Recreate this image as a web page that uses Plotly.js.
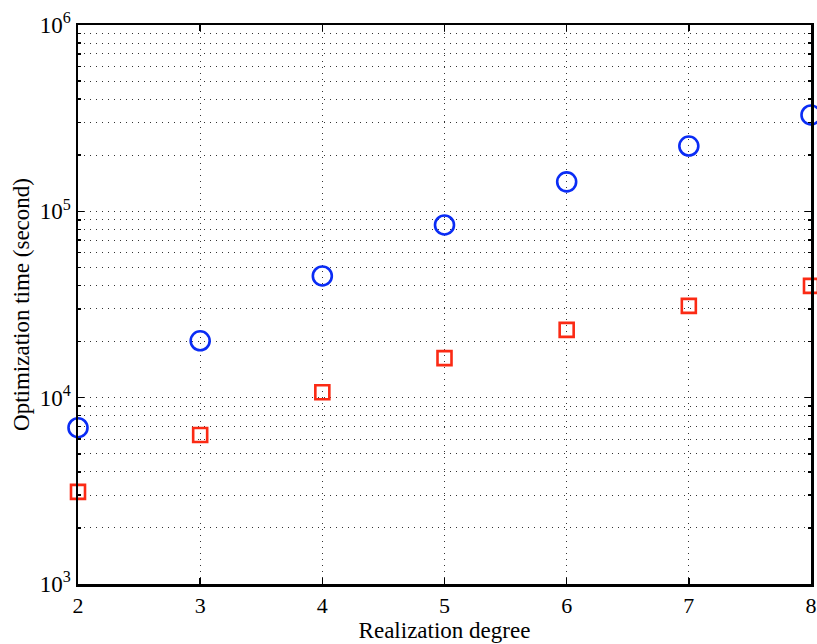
<!DOCTYPE html>
<html><head><meta charset="utf-8">
<script src="https://cdn.plot.ly/plotly-3.0.1.min.js"></script>
<style>
html,body{margin:0;padding:0;background:#fff}
#chart .xtick text{font-size:22px !important;}
#chart .ytick text{font-size:23px !important;}
</style>
</head><body>
<div id="chart" style="width:817px;height:644px"></div>
<script>
var degrees = [2, 3, 4, 5, 6, 7, 8];
var timeCircles = [6900, 20200, 45000, 84500, 144000, 224000, 329000];
var timeSquares = [3120, 6300, 10700, 16300, 23100, 31100, 39800];
var xTickVals = [2, 3, 4, 5, 6, 7, 8];
var yTickVals = [1000, 10000, 100000, 1000000];
var yTickText = ['10<sup>3</sup>', '10<sup>4</sup>', '10<sup>5</sup>', '10<sup>6</sup>'];

var fam = '"Liberation Serif", "Times New Roman", serif';
var traces = [
  {x: degrees, y: timeCircles, mode: 'markers', type: 'scatter', cliponaxis: false,
   marker: {symbol: 'circle-open', size: 19, color: '#0a2cf5', line: {width: 2.6, color: '#0a2cf5'}}},
  {x: degrees, y: timeSquares, mode: 'markers', type: 'scatter', cliponaxis: false,
   marker: {symbol: 'square-open', size: 14, color: '#fb2a14', line: {width: 2.6, color: '#fb2a14'}}}
];
var layout = {
  width: 817, height: 644,
  margin: {l: 78, r: 6, t: 25, b: 60},
  paper_bgcolor: '#fff', plot_bgcolor: '#fff',
  showlegend: false,
  font: {family: fam, color: '#000', size: 22},
  xaxis: {
    range: [2, 8], tickmode: 'array', tickvals: xTickVals, ticktext: xTickVals.map(String),
    ticks: 'inside', ticklen: 6, tickwidth: 1.5, tickcolor: '#000',
    showline: true, linewidth: 2.5, linecolor: '#000', mirror: 'ticks',
    showgrid: true, gridcolor: '#333', griddash: '1px,5px', gridwidth: 1,
    zeroline: false, tickfont: {family: fam, size: 22, color: '#000'},
    title: {text: 'Realization degree', font: {family: fam, size: 23, color: '#000'}, standoff: 0}
  },
  yaxis: {
    type: 'log', range: [3, 6], tickmode: 'array', tickvals: yTickVals, ticktext: yTickText,
    ticks: 'inside', ticklen: 6, tickwidth: 1.5, tickcolor: '#000',
    showline: true, linewidth: 2.5, linecolor: '#000', mirror: 'ticks',
    showgrid: true, gridcolor: '#333', griddash: '1px,5px', gridwidth: 1,
    minor: {dtick: 'D1', ticks: 'inside', ticklen: 3, tickcolor: '#000', showgrid: true, gridcolor: '#333', griddash: '1px,5px', gridwidth: 1},
    zeroline: false, tickfont: {family: fam, size: 23, color: '#000'},
    title: {text: 'Optimization time (second)', font: {family: fam, size: 23, color: '#000'}, standoff: 4}
  }
};
Plotly.newPlot('chart', traces, layout, {displayModeBar: false, staticPlot: true});
</script>
</body></html>
